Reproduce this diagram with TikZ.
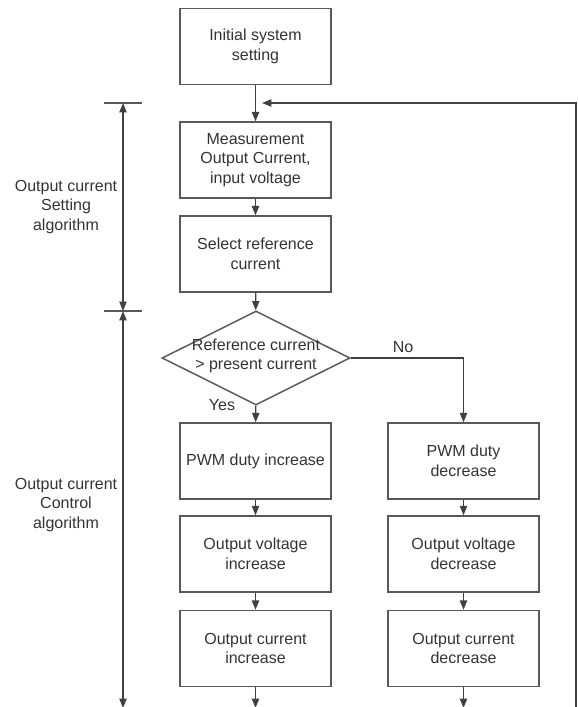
\documentclass[tikz,border=0pt]{standalone}
\usepackage{fontspec}
\setmainfont{Liberation Sans}
\usetikzlibrary{shapes.geometric,arrows.meta}
\begin{document}
\begin{tikzpicture}
  [x=0.75pt,y=-0.75pt,
   every node/.style={text=black!80,font=\fontsize{12}{14.6}\selectfont,align=center},
   block/.style={rectangle,draw=black!65,line width=1.1pt,minimum width=113pt,minimum height=57pt},
   choice/.style={diamond,draw=black!65,line width=1.1pt,minimum width=141pt,minimum height=70.5pt,inner sep=0pt},
   flow/.style={draw=black!75,line width=1pt,-{Triangle[length=7pt,width=5.4pt]}},
   dim/.style={draw=black!75,line width=1pt,{Triangle[length=7pt,width=5.4pt]}-{Triangle[length=7pt,width=5.4pt]}},
   tick/.style={draw=black!65,line width=1pt}]
  \useasboundingbox (0,0) rectangle (578,707);

  \node[block] (init) at (255.5,46.5) {Initial system\\setting};
  \node[block] (meas) at (255.5,160) {Measurement\\Output Current,\\input voltage};
  \node[block] (sel)  at (255.5,254) {Select reference\\current};
  \node[choice] (cmp) at (256,358) {};
  \node (cmptxt) at (256,356) {Reference current\\> present current};
  \node[block] (inc1) at (255.5,461) {PWM duty increase};
  \node[block] (inc2) at (255.5,554) {Output voltage\\increase};
  \node[block] (inc3) at (255.5,648.5) {Output current\\increase};
  \node[block] (dec1) at (463.5,461) {PWM duty\\decrease};
  \node[block] (dec2) at (463.5,554) {Output voltage\\decrease};
  \node[block] (dec3) at (463.5,648.5) {Output current\\decrease};

  \node (yes) at (222,405) {Yes};
  \node (no)  at (403,347) {No};
  \node (lset) at (66,207) {Output current\\Setting\\algorithm};
  \node (lctl) at (66,505) {Output current\\Control\\algorithm};

  \coordinate (turn) at (463.5,358);
  \coordinate (back) at (262,103);
  \coordinate (ret)  at (576,708);
  \coordinate (endl) at (255.5,708);
  \coordinate (endr) at (463.5,708);

  \foreach \from/\to in {init/meas,meas/sel,sel/cmp,cmp/inc1,inc1/inc2,inc2/inc3,dec1/dec2,dec2/dec3}
    \draw[flow] (\from) -- (\to);
  \draw[flow] (cmp.east) -- (turn) -- (dec1.north);
  \draw[flow] (inc3.south) -- (endl);
  \draw[flow] (dec3.south) -- (endr);
  \draw[flow] (endl) -- (ret) -- (576,103) -- (back);

  % extent of the two algorithm parts
  \coordinate (d1) at (123,103);
  \coordinate (d2) at (123,311);
  \coordinate (d3) at (123,708);
  \draw[tick] (104,103) -- (142,103);
  \draw[tick] (104,311) -- (142,311);
  \draw[tick] (104,708) -- (142,708);
  \draw[dim] (d1) -- (d2);
  \draw[dim] (d2) -- (d3);

\end{tikzpicture}
\end{document}
